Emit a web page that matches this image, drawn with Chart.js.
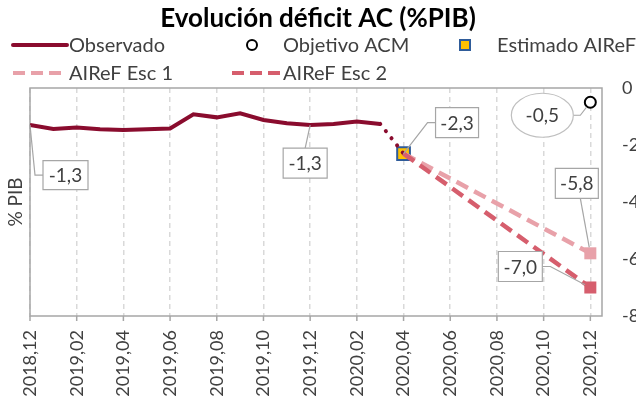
<!DOCTYPE html>
<html><head><meta charset="utf-8">
<script src="https://cdn.jsdelivr.net/npm/chart.js@4/dist/chart.umd.min.js"></script>
<style>html,body{margin:0;padding:0;background:#fff;overflow:hidden}#wrap{width:636px;height:401px}</style>
</head><body><div id="wrap"><canvas id="c" width="636" height="401"></canvas></div>
<script>
// ---- data ----
const meses = ['2018,12','2019,01','2019,02','2019,03','2019,04','2019,05','2019,06','2019,07','2019,08','2019,09','2019,10','2019,11','2019,12',
               '2020,01','2020,02','2020,03','2020,04','2020,05','2020,06','2020,07','2020,08','2020,09','2020,10','2020,11','2020,12'];
const tickLabels = ['2018,12','2019,02','2019,04','2019,06','2019,08','2019,10','2019,12','2020,02','2020,04','2020,06','2020,08','2020,10','2020,12'];
const observado = [-1.3,-1.44,-1.39,-1.45,-1.47,-1.45,-1.42,-0.92,-1.03,-0.89,-1.12,-1.24,-1.3,-1.26,-1.18,-1.26]; // 2018,12 .. 2020,03
const mesObjetivo = '2020,12';
const objetivoACM = [-0.5];
const mesEstimado = '2020,04';
const estimadoAIReF = [-2.3];
const mesesEsc = ['2020,04','2020,12'];
const esc1 = [-2.3, -5.8];
const esc2 = [-2.3, -7.0];
const yTicks = [0,-2,-4,-6,-8];

// ---- helpers ----
const ix = m => meses.indexOf(m);
const fmt = v => v.toFixed(1).replace('.', ',');
const FONT = 'Lato';
const C_OBS = '#8A0C2E', C_E1 = '#E8A1A9', C_E2 = '#D65E6D', C_TXT = '#404040', C_BOX = '#A6A6A6';

const obsData = observado.map((v,i)=>({x:i,y:v}));
const linkData = [{x:observado.length-1,y:observado[observado.length-1]},{x:ix(mesEstimado),y:estimadoAIReF[0]}];
const objData = objetivoACM.map(v=>({x:ix(mesObjetivo),y:v}));
const estData = estimadoAIReF.map(v=>({x:ix(mesEstimado),y:v}));
const e1Data = esc1.map((v,i)=>({x:ix(mesesEsc[i]),y:v}));
const e2Data = esc2.map((v,i)=>({x:ix(mesesEsc[i]),y:v}));

// data labels: dataset index, point index, box offset / size, leader geometry (relative to box centre)
const dataLabels = [
  {ds:0, i:0,  dx:35.5, dy:50, w:45, h:29, elbow:[-30.5,0], attach:[-22.5,0], gap:0},
  {ds:0, i:12, dx:-5,   dy:38, w:44, h:30, elbow:[0,-15],   attach:[0,-15],   gap:0},
  {ds:3, i:0,  dx:53.5, dy:-31,w:43, h:30, elbow:[-29.5,0], attach:[-21.5,0], gap:0},
  {ds:2, i:0,  dx:-48,  dy:13, w:62, h:44, elbow:[38,0],    attach:[31,0],    gap:6, ellipse:true},
  {ds:4, i:1,  dx:-13.5,dy:-70,w:43, h:30, elbow:[3.5,15],  attach:[3.5,15],  gap:6},
  {ds:5, i:1,  dx:-70,  dy:-21,w:44, h:30, elbow:[30,0],    attach:[22,0],    gap:6}
];

const deco = {
  id:'deco',
  beforeDatasetsDraw(chart){
    const {ctx, chartArea:a} = chart;
    const xs = chart.scales.x;
    ctx.save();
    ctx.strokeStyle = C_BOX; ctx.lineWidth = 1.5;
    ctx.strokeRect(a.left, a.top, a.right-a.left, a.bottom-a.top);
    xs.ticks.forEach(t=>{
      const px = xs.getPixelForValue(t.value);
      ctx.beginPath(); ctx.moveTo(px, a.bottom); ctx.lineTo(px, a.bottom+5); ctx.stroke();
    });
    ctx.restore();
  },
  afterDatasetsDraw(chart){
    const {ctx} = chart;
    const xs = chart.scales.x, ys = chart.scales.y;
    ctx.save();
    ctx.font = '19px ' + FONT;
    ctx.textAlign = 'center'; ctx.textBaseline = 'middle';
    dataLabels.forEach(l=>{
      const d = chart.data.datasets[l.ds].data[l.i];
      const px = xs.getPixelForValue(d.x), py = ys.getPixelForValue(d.y);
      const cx = px + l.dx, cy = py + l.dy;
      const ex = cx + l.elbow[0], ey = cy + l.elbow[1];
      let lx = px, ly = py;
      if (l.gap){ const dd = Math.hypot(px-ex, py-ey); lx = px + (ex-px)/dd*l.gap; ly = py + (ey-py)/dd*l.gap; }
      ctx.strokeStyle = C_BOX; ctx.lineWidth = 1.2;
      ctx.beginPath(); ctx.moveTo(lx,ly); ctx.lineTo(ex,ey); ctx.lineTo(cx+l.attach[0], cy+l.attach[1]); ctx.stroke();
      ctx.fillStyle = '#fff';
      ctx.beginPath();
      if (l.ellipse){ ctx.strokeStyle='#BFBFBF'; ctx.ellipse(cx, cy, l.w/2, l.h/2, 0, 0, Math.PI*2); }
      else ctx.rect(cx-l.w/2, cy-l.h/2, l.w, l.h);
      ctx.fill(); ctx.stroke();
      ctx.fillStyle = C_TXT;
      ctx.fillText(fmt(d.y), cx, cy+1);
    });
    ctx.restore();
  },
  afterDraw(chart){
    const {ctx} = chart;
    const ds = chart.data.datasets;
    ctx.save();
    ctx.font = '20px ' + FONT; ctx.fillStyle = C_TXT; ctx.textBaseline = 'middle'; ctx.textAlign = 'left';
    const items = [
      {d:ds[0], kind:'line', x0:13, x1:67, y:45, tx:69},
      {d:ds[2], kind:'circle', x0:252, y:45, tx:283},
      {d:ds[3], kind:'square', x0:465, y:45, tx:497},
      {d:ds[4], kind:'dash', x0:13, x1:67, y:73, tx:69},
      {d:ds[5], kind:'dash', x0:232, x1:281, y:73, tx:283}
    ];
    items.forEach(it=>{
      ctx.save();
      if (it.kind==='line' || it.kind==='dash'){
        ctx.strokeStyle = it.d.borderColor; ctx.lineWidth = 4;
        ctx.setLineDash(it.kind==='dash' ? [12,6] : []);
        ctx.lineCap = it.kind==='line' ? 'round' : 'butt';
        ctx.beginPath(); ctx.moveTo(it.x0, it.y); ctx.lineTo(it.x1, it.y); ctx.stroke();
      } else if (it.kind==='circle'){
        ctx.strokeStyle = it.d.pointBorderColor; ctx.lineWidth = 2; ctx.fillStyle = '#fff';
        ctx.beginPath(); ctx.arc(it.x0, it.y, 5, 0, Math.PI*2); ctx.fill(); ctx.stroke();
      } else {
        ctx.strokeStyle = it.d.pointBorderColor; ctx.lineWidth = 2; ctx.fillStyle = it.d.pointBackgroundColor;
        ctx.fillRect(it.x0-5, it.y-5, 10, 10); ctx.strokeRect(it.x0-5, it.y-5, 10, 10);
      }
      ctx.restore();
      ctx.fillText(it.d.label, it.tx, it.y+1);
    });
    ctx.restore();
  }
};

function build(){
  Chart.defaults.font.family = FONT;
  new Chart(document.getElementById('c'), {
    type:'line',
    data:{datasets:[
      {label:'Observado', data:obsData, borderColor:C_OBS, borderWidth:4, pointRadius:0, tension:0, order:3},
      {label:'enlace', data:linkData, borderColor:C_OBS, borderWidth:4, borderDash:[0.1,9], borderCapStyle:'round', pointRadius:0, order:3},
      {label:'Objetivo ACM', data:objData, showLine:false, pointStyle:'circle', pointRadius:5.5, pointBorderWidth:2, pointBorderColor:'#000', pointBackgroundColor:'#fff', order:0},
      {label:'Estimado AIReF', data:estData, showLine:false, pointStyle:'rect', pointRadius:9, pointBorderWidth:2, pointBorderColor:'#2F5C9A', pointBackgroundColor:'#FFC000', order:5},
      {label:'AIReF Esc 1', data:e1Data, borderColor:C_E1, borderWidth:4.5, borderDash:[13,7], pointStyle:'rect', pointRadius:[0,8.5], pointBorderWidth:0, pointBackgroundColor:C_E1, pointBorderColor:C_E1, order:2},
      {label:'AIReF Esc 2', data:e2Data, borderColor:C_E2, borderWidth:4.5, borderDash:[13,7], pointStyle:'rect', pointRadius:[0,8.5], pointBorderWidth:0, pointBackgroundColor:C_E2, pointBorderColor:C_E2, order:1}
    ]},
    options:{
      responsive:false, animation:false, devicePixelRatio:1,
      layout:{padding:0},
      plugins:{
        legend:{display:false}, tooltip:{enabled:false},
        title:{display:true, text:'Evolución déficit AC (%PIB)', color:'#000', font:{family:FONT, size:26, weight:'bold'}, padding:{top:3.4,bottom:53.4}}
      },
      scales:{
        x:{type:'linear', min:0, max:24.5,
           afterBuildTicks(s){ s.ticks = tickLabels.map(t=>({value:ix(t)})); },
           afterFit(s){ s.height = 85; },
           grid:{display:true, drawTicks:false, color:'#D9D9D9', lineWidth:1.5},
           border:{display:false, dash:[5,4]},
           ticks:{autoSkip:false, minRotation:90, maxRotation:90, padding:14, color:C_TXT, font:{size:18},
                  callback:(v)=>meses[v]}},
        y:{position:'right', min:-8, max:0,
           afterBuildTicks(s){ s.ticks = yTicks.map(v=>({value:v})); },
           afterFit(s){ s.width = 34; },
           grid:{display:false, drawTicks:false}, border:{display:false},
           ticks:{padding:20, color:C_TXT, font:{size:18}, callback:v=>String(v)}},
        yL:{position:'left', min:-8, max:0,
           afterFit(s){ s.width = 30; },
           grid:{display:false, drawTicks:false}, border:{display:false},
           ticks:{display:false},
           title:{display:true, text:'% PIB', color:C_TXT, font:{size:19}, padding:{top:4,bottom:0}}}
      }
    },
    plugins:[deco]
  });
}
if (document.fonts && document.fonts.load) {
  Promise.all([document.fonts.load('18px Lato'), document.fonts.load('bold 26px Lato')]).then(build, build);
} else build();
</script>
</body></html>
